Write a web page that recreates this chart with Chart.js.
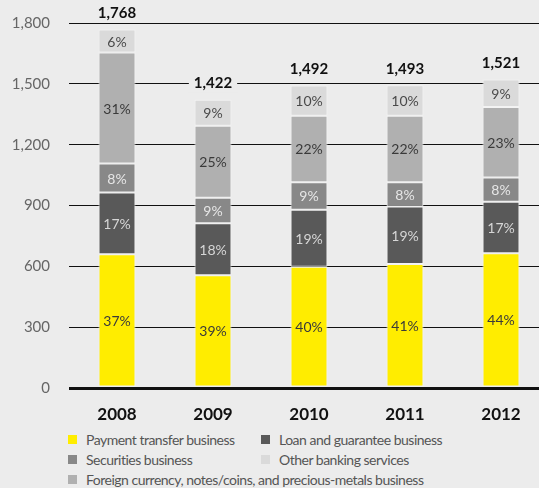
<!DOCTYPE html>
<html>
<head>
<meta charset="utf-8">
<script src="https://cdn.jsdelivr.net/npm/chart.js@4/dist/chart.umd.min.js"></script>
<style>
  html, body { margin: 0; padding: 0; background: #ececec; overflow: hidden; }
  #wrap { position: relative; width: 539px; height: 488px; overflow: hidden; background: #ececec; }
  #c { position: absolute; left: 0; top: 0; }
  .lg { position: absolute; font-family: Lato, "Open Sans", sans-serif; font-size: 14px; letter-spacing: -0.5px; color: #555; white-space: nowrap; line-height: 16px; }
  .lg span.box { position: absolute; width: 9px; height: 9px; left: 0; top: 3px; }
  .lg span.t { position: absolute; left: 18px; top: 0; }
</style>
</head>
<body>
<div id="wrap">
  <canvas id="c" width="549" height="428"></canvas>
  <div id="legend"></div>
</div>
<script>
const years = ["2008", "2009", "2010", "2011", "2012"];
const totals = [1768, 1422, 1492, 1493, 1521];
const yTicks = [0, 300, 600, 900, 1200, 1500, 1800];

const seriesNames = [
  "Payment transfer business",
  "Loan and guarantee business",
  "Securities business",
  "Foreign currency, notes/coins, and precious-metals business",
  "Other banking services"
];
const paymentValues = [659, 556, 598, 612, 664];
const loanValues = [305, 257, 281, 283, 254];
const securitiesValues = [143, 125, 136, 120, 120];
const foreignValues = [547, 355, 328, 328, 348];
const otherValues = [114, 129, 149, 150, 135];

const paymentPct = ["37%", "39%", "40%", "41%", "44%"];
const loanPct = ["17%", "18%", "19%", "19%", "17%"];
const securitiesPct = ["8%", "9%", "9%", "8%", "8%"];
const foreignPct = ["31%", "25%", "22%", "22%", "23%"];
const otherPct = ["6%", "9%", "10%", "10%", "9%"];

const colors = ["#ffed00", "#595959", "#888888", "#b0b0b0", "#dadada"];
const labelColors = ["#3a3a3a", "#d6d6d6", "#e6e6e6", "#3a3a3a", "#4a4a4a"];
const BG = "#ececec";

const valueSets = [paymentValues, loanValues, securitiesValues, foreignValues, otherValues];
const pctSets = [paymentPct, loanPct, securitiesPct, foreignPct, otherPct];

const datasets = seriesNames.map((name, i) => ({
  label: name,
  data: valueSets[i],
  pct: pctSets[i],
  backgroundColor: colors[i],
  borderColor: "#f3f3f3",
  borderWidth: 1,
  borderSkipped: false,
  barPercentage: 0.77,
  categoryPercentage: 0.5,
  textColor: labelColors[i]
}));

const FONT = "Lato, 'Open Sans', sans-serif";

const labelPlugin = {
  id: "segLabels",
  afterDatasetsDraw(chart) {
    const ctx = chart.ctx;
    ctx.save();
    ctx.textAlign = "center";
    ctx.textBaseline = "middle";
    chart.data.datasets.forEach((ds, di) => {
      const meta = chart.getDatasetMeta(di);
      meta.data.forEach((bar, i) => {
        const p = bar.getProps(["x", "y", "base"], true);
        ctx.font = "14px " + FONT;
        ctx.fillStyle = ds.textColor;
        ctx.fillText(ds.pct[i], p.x, (p.y + p.base) / 2 + 1);
      });
    });
    // totals
    const topMeta = chart.getDatasetMeta(chart.data.datasets.length - 1);
    ctx.font = "bold 15px " + FONT;
    topMeta.data.forEach((bar, i) => {
      const p = bar.getProps(["x", "y"], true);
      const txt = totals[i].toLocaleString("en-US");
      const w = ctx.measureText(txt).width;
      const cy = p.y - 16;
      ctx.fillStyle = BG;
      ctx.fillRect(p.x - w / 2 - 5, cy - 9, w + 10, 18);
      ctx.fillStyle = "#111";
      ctx.fillText(txt, p.x, cy);
    });
    ctx.restore();
  }
};

new Chart(document.getElementById("c"), {
  type: "bar",
  data: { labels: years, datasets: datasets },
  options: {
    responsive: false,
    animation: false,
    devicePixelRatio: 1,
    layout: { padding: { top: 23, right: 0, left: 0, bottom: 0 } },
    plugins: { legend: { display: false }, tooltip: { enabled: false } },
    scales: {
      x: {
        stacked: true,
        grid: { display: false },
        border: { display: false },
        ticks: { color: "#111", font: { family: FONT, size: 17, weight: "bold" }, padding: 8 },
        afterFit(s) { s.height = 40; }
      },
      y: {
        stacked: true,
        min: 0,
        max: 1800,
        afterBuildTicks(s) { s.ticks = yTicks.map(v => ({ value: v })); },
        ticks: {
          color: "#666",
          font: { family: FONT, size: 15 },
          padding: 19,
          callback: v => Number(v).toLocaleString("en-US")
        },
        grid: {
          color: "#111",
          lineWidth: c => (c.tick && c.tick.value === 0 ? 3 : 1),
          drawTicks: false
        },
        border: { display: false },
        afterFit(s) { s.width = 69; s.paddingTop = 0; s.paddingBottom = 0; }
      }
    }
  },
  plugins: [labelPlugin]
});

// legend (HTML) built from the datasets
const legendPos = [
  [68, 432], [261, 432],
  [68, 452], [261, 452],
  [68, 472]
];
const legendOrder = [0, 1, 2, 4, 3];
const lgRoot = document.getElementById("legend");
legendOrder.forEach((di, k) => {
  const d = document.createElement("div");
  d.className = "lg";
  d.style.left = legendPos[k][0] + "px";
  d.style.top = legendPos[k][1] + "px";
  d.innerHTML = '<span class="box" style="background:' + colors[di] + '"></span><span class="t"></span>';
  d.querySelector(".t").textContent = seriesNames[di];
  lgRoot.appendChild(d);
});
</script>
</body>
</html>
